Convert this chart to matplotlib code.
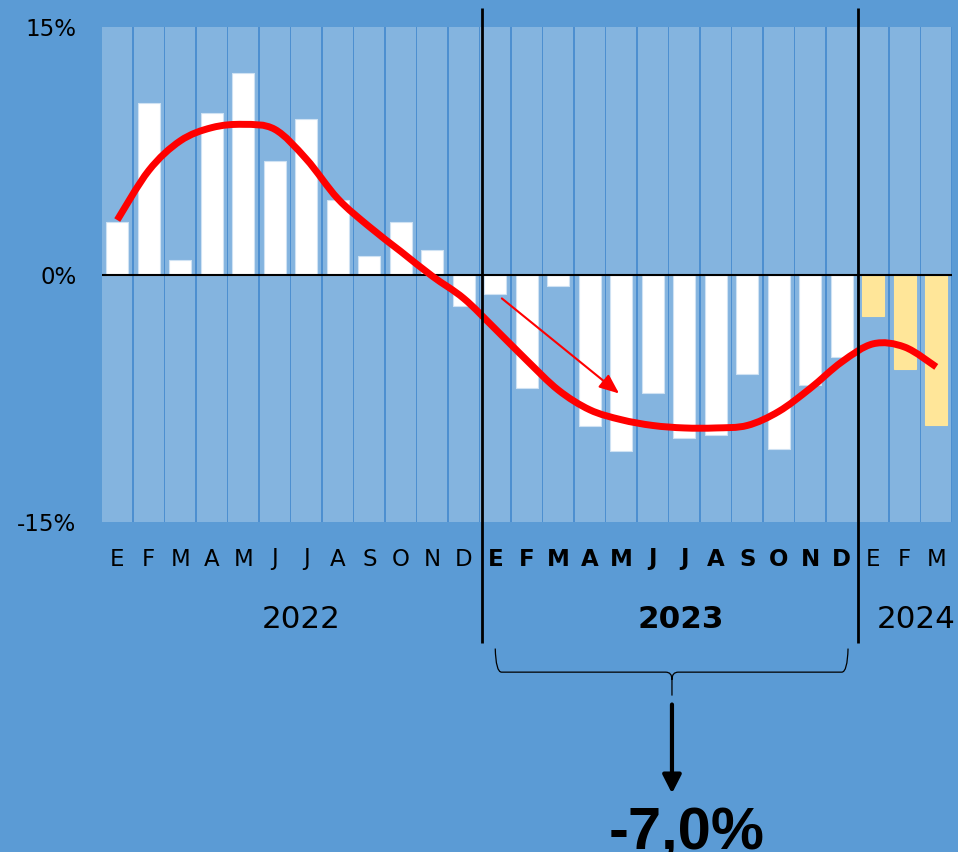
import matplotlib
matplotlib.use("Agg")
import matplotlib.pyplot as plt
from matplotlib.path import Path
from matplotlib.patches import PathPatch
import numpy as np

# ---- data ----
months = ["E", "F", "M", "A", "M", "J", "J", "A", "S", "O", "N", "D",
          "E", "F", "M", "A", "M", "J", "J", "A", "S", "O", "N", "D",
          "E", "F", "M"]
years = ["2022", "2023", "2024"]
bar_2022 = [3.2, 10.4, 0.9, 9.8, 12.2, 6.9, 9.4, 4.5, 1.1, 3.2, 1.5, -1.9]
bar_2023 = [-1.2, -6.9, -0.7, -9.2, -10.7, -7.2, -9.9, -9.7, -6.0, -10.6, -6.7, -5.0]
bar_2024 = [-2.5, -5.7, -9.1]
trend = [3.3, 6.3, 8.1, 8.9, 9.1, 8.8, 7.0, 4.6, 2.9, 1.4, -0.1, -1.45,
         -3.3, -5.2, -7.0, -8.2, -8.8, -9.15, -9.3, -9.3, -9.15, -8.3, -6.9, -5.3,
         -4.2, -4.4, -5.6]
total_2023 = "-7,0%"
ytick_vals = [-15, 0, 15]
ytick_labels = ["-15%", "0%", "15%"]

BG = "#5b9bd5"
SEP = "#4d8fd0"
COL = "#84b4df"
YEL = "#ffe699"

W, H = 958, 852
fig = plt.figure(figsize=(W / 100, H / 100), dpi=100, facecolor=BG)
ax = fig.add_axes([101.5 / W, 1 - 522 / H, 850.5 / W, 495 / H])
ax.set_facecolor(SEP)
for s in ax.spines.values():
    s.set_visible(False)

n = len(months)
x = np.arange(n)
ax.set_xlim(-0.5, n - 0.5)
ax.set_ylim(-15, 15)

# light columns
ax.bar(x, 30, bottom=-15, width=0.94, color=COL, zorder=1)

vals = bar_2022 + bar_2023 + bar_2024
colors = ["white"] * (len(bar_2022) + len(bar_2023)) + [YEL] * len(bar_2024)
edges = ["#cfe2f3"] * (len(bar_2022) + len(bar_2023)) + [YEL] * len(bar_2024)
ax.bar(x, vals, width=0.7, color=colors, edgecolor=edges, linewidth=0.8, zorder=2)

ax.axhline(0, color="black", lw=1.5, zorder=3)

# smoothed trend (Catmull-Rom bezier through read points)
pts = np.column_stack([x, trend]).astype(float)
verts = [tuple(pts[0])]
codes = [Path.MOVETO]
for i in range(len(pts) - 1):
    p0 = pts[i - 1] if i > 0 else pts[i]
    p1 = pts[i]
    p2 = pts[i + 1]
    p3 = pts[i + 2] if i + 2 < len(pts) else pts[i + 1]
    c1 = p1 + (p2 - p0) / 6.0
    c2 = p2 - (p3 - p1) / 6.0
    verts += [tuple(c1), tuple(c2), tuple(p2)]
    codes += [Path.CURVE4] * 3
ax.add_patch(PathPatch(Path(verts, codes), fill=False, edgecolor="#ff0000",
                       lw=5, capstyle="butt", joinstyle="round", zorder=5))

# thin red arrow
ax.annotate("", xy=(15.93, -7.21), xytext=(12.21, -1.45),
            arrowprops=dict(arrowstyle="-|>,head_length=0.6,head_width=0.25",
                            color="#ff0000", lw=1.5, mutation_scale=20,
                            shrinkA=0, shrinkB=0), zorder=6)

# year separators
ax.vlines([11.57, 23.53], -22.36, 16.18, color="black", lw=2, clip_on=False, zorder=7)

# y ticks
ax.set_yticks(ytick_vals, ytick_labels)
ax.tick_params(axis="y", length=0, pad=18, labelsize=16.5, labelcolor="black")
ax.set_xticks([])

# month labels
xt = ax.get_xaxis_transform()
for i, m in enumerate(months):
    bold = 12 <= i <= 23
    ax.text(i, (522 - 565.5) / 495, m, transform=xt, ha="center", va="baseline",
            fontsize=16.5, fontweight="bold" if bold else "normal",
            family="DejaVu Sans", color="black")

# year labels
year_pos = [5.83, 17.9, 25.35]
for yx, yl, bold in zip(year_pos, years, [False, True, False]):
    ax.text(yx, (522 - 628) / 495, yl, transform=xt, ha="center", va="baseline",
            fontsize=22.3, fontweight="bold" if bold else "normal",
            family="DejaVu Sans", color="black")

# brace under 2023
x0, x1, xm = 12.0, 23.2, 17.61
yt, ym, yb = -22.67, -24.1, -25.52
dx = 0.2
bverts = [(x0, yt), (x0 + 0.02, ym), (x0 + dx, ym), (xm - dx, ym), (xm, ym), (xm, ym - 0.45),
          (xm, yb),
          (xm, ym - 0.45), (xm, ym), (xm + dx, ym), (x1 - dx, ym), (x1 - 0.02, ym), (x1, yt)]
bcodes = [Path.MOVETO, Path.CURVE3, Path.CURVE3, Path.LINETO, Path.CURVE3, Path.CURVE3,
          Path.LINETO,
          Path.MOVETO, Path.CURVE3, Path.CURVE3, Path.LINETO, Path.CURVE3, Path.CURVE3]
bp = PathPatch(Path(bverts, bcodes), fill=False, edgecolor="black", lw=0.9, clip_on=False)
ax.add_patch(bp)

# black down arrow
ax.annotate("", xy=(17.61, -31.45), xytext=(17.61, -26.06),
            arrowprops=dict(arrowstyle="-|>,head_length=0.55,head_width=0.28",
                            color="black", lw=3, mutation_scale=20,
                            shrinkA=0, shrinkB=0), annotation_clip=False)

ax.text(18.07, -34.79, total_2023, ha="center", va="baseline", fontsize=43,
        fontweight="bold", family="Liberation Sans", color="black", clip_on=False)

fig.savefig("out.png", dpi=100, facecolor=BG)
